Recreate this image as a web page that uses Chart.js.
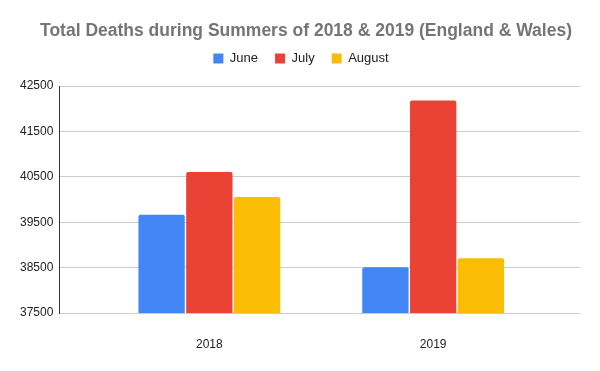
<!DOCTYPE html>
<html>
<head>
<meta charset="utf-8">
<script src="https://cdn.jsdelivr.net/npm/chart.js@4"></script>
<style>
  html, body { margin: 0; padding: 0; background: #fff; }
  #wrap { width: 600px; height: 371px; }
</style>
</head>
<body>
<div id="wrap"><canvas id="deathsChart" width="600" height="371"></canvas></div>
<script>
// Dati
const years = ['2018', '2019'];
const june = [39666, 38507];
const july = [40607, 42183];
const august = [40054, 38704];
const yTicks = [37500, 38500, 39500, 40500, 41500, 42500];

const toPoints = arr => arr.map((v, i) => ({ x: i, y: v }));

// spazio extra sotto la legenda + titolo/legenda un po' spostati a destra
const layoutTweaks = {
  id: 'layoutTweaks',
  beforeInit(chart) {
    const origFit = chart.legend.fit;
    chart.legend.fit = function() {
      origFit.call(this);
      this.height += 11;
    };
  },
  afterLayout(chart) {
    if (chart.titleBlock) chart.titleBlock.left += 18;
    if (chart.legend) chart.legend.left += 8;
  }
};

const ctx = document.getElementById('deathsChart').getContext('2d');
new Chart(ctx, {
  type: 'bar',
  data: {
    datasets: [
      { label: 'June', data: toPoints(june), backgroundColor: '#4285F4' },
      { label: 'July', data: toPoints(july), backgroundColor: '#EA4335' },
      { label: 'August', data: toPoints(august), backgroundColor: '#FBBC04' }
    ]
  },
  options: {
    responsive: false,
    animation: false,
    categoryPercentage: 0.64,
    barPercentage: 0.97,
    borderRadius: { topLeft: 2, topRight: 2 },
    borderSkipped: 'bottom',
    layout: { padding: { left: 14, right: 20, top: 12, bottom: 0 } },
    scales: {
      x: {
        type: 'linear',
        offset: false,
        min: -0.67,
        max: 1.656,
        afterBuildTicks: s => { s.ticks = years.map((_, i) => ({ value: i })); },
        afterFit: s => { s.height = 58; },
        ticks: {
          autoSkip: false,
          padding: 24,
          color: '#222',
          font: { family: 'Liberation Sans', size: 12 },
          callback: v => years[v]
        },
        grid: { display: false, drawTicks: false, offset: false },
        border: { display: false }
      },
      y: {
        min: 37500,
        max: 42500,
        afterBuildTicks: s => { s.ticks = yTicks.map(v => ({ value: v })); },
        ticks: {
          padding: 6,
          color: '#222',
          font: { family: 'Liberation Sans', size: 12 },
          callback: v => String(v)
        },
        grid: { color: '#cccccc', drawTicks: false },
        border: { display: true, color: '#333', width: 1 }
      }
    },
    plugins: {
      title: {
        display: true,
        text: 'Total Deaths during Summers of 2018 & 2019 (England & Wales)',
        color: '#757575',
        font: { family: 'Liberation Sans', size: 17.5, weight: 'bold' },
        padding: { top: 9, bottom: -7 }
      },
      legend: {
        labels: {
          boxWidth: 10,
          boxHeight: 10,
          padding: 17,
          color: '#222',
          font: { family: 'Liberation Sans', size: 13 }
        }
      },
      tooltip: { enabled: false }
    }
  },
  plugins: [layoutTweaks]
});
</script>
</body>
</html>
